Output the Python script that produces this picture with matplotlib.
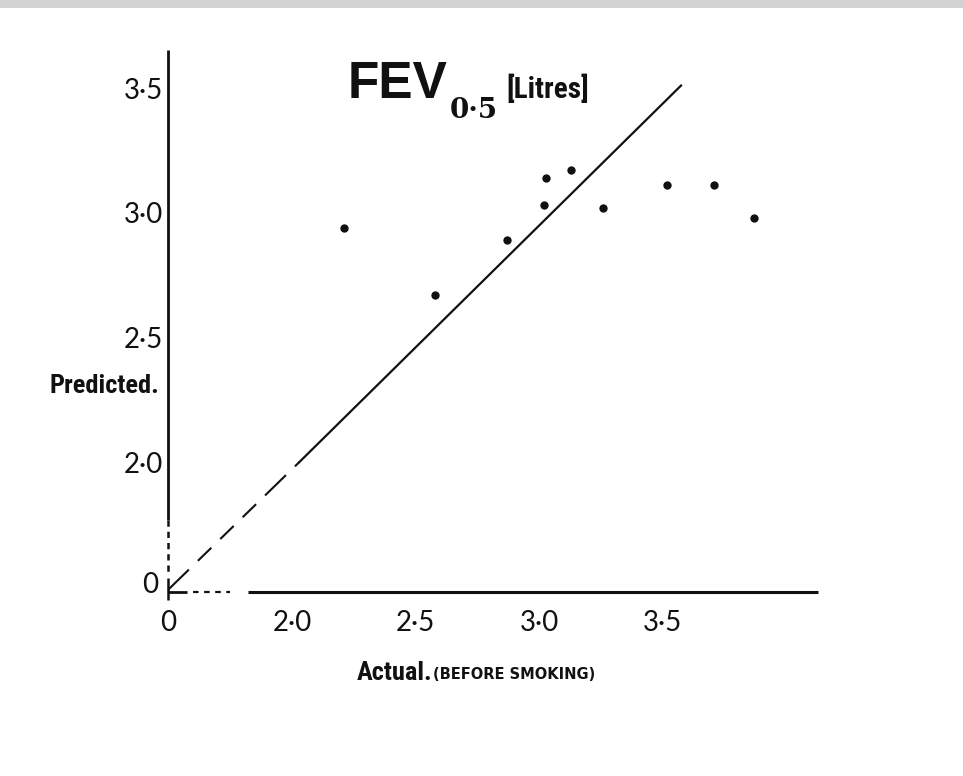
import matplotlib
matplotlib.use("Agg")
import matplotlib.pyplot as plt
from matplotlib.patches import Rectangle
from matplotlib import font_manager

# ---- data ----
actual = [2.21, 2.58, 2.87, 3.02, 3.03, 3.13, 3.26, 3.52, 3.71, 3.87]
predicted = [2.94, 2.67, 2.89, 3.03, 3.14, 3.17, 3.02, 3.11, 3.11, 2.98]
x_ticks = [2.0, 2.5, 3.0, 3.5]
x_tick_labels = ["2·0", "2·5", "3·0", "3·5"]
y_ticks = [2.0, 2.5, 3.0, 3.5]
y_tick_labels = ["2·0", "2·5", "3·0", "3·5"]
origin = 1.5              # broken-axis origin, labelled "0"
origin_label = "0"
# line of equality (hand-drawn): dashed part and solid part
eq_dash_x = [1.498, 2.03]
eq_dash_y = [1.487, 2.00]
eq_solid_x = [2.03, 3.575]
eq_solid_y = [2.00, 3.51]

names = {f.name for f in font_manager.fontManager.ttflist}
condensed = [n for n in ["Roboto Condensed", "Liberation Sans Narrow", "DejaVu Sans Condensed",
                         "Open Sans Condensed", "Roboto"] if n in names] + ["DejaVu Sans"]
cond_font = condensed[0]

fig = plt.figure(figsize=(9.63, 7.76), dpi=100)
fig.patch.set_facecolor("white")
ax = fig.add_axes([0, 0, 1, 1])
ax.set_xlim(0.8178, 4.7166)
ax.set_ylim(0.7405, 3.8532)
ax.axis("off")

# scanned top edge
fig.add_artist(Rectangle((0, 1 - 8 / 776), 1, 8 / 776, transform=fig.transFigure,
                         facecolor="#d2d2d2", edgecolor="none"))

ink = "#111111"
ax_x = 1.498   # position of vertical axis
ax_y = 1.479   # position of horizontal axis

# vertical axis: solid, then dotted down to origin, plus small cross stub
ax.plot([ax_x, ax_x], [3.653, 1.767], color=ink, lw=2.0, solid_capstyle="butt")
ax.plot([ax_x, ax_x], [1.767, 1.55], color=ink, lw=1.8, linestyle=(0, (2.5, 2.0)))
ax.plot([ax_x, ax_x], [1.535, 1.447], color=ink, lw=1.8, solid_capstyle="butt")

# horizontal axis: stub, dotted, then solid
ax.plot([1.498, 1.575], [ax_y, ax_y], color=ink, lw=2.0, solid_capstyle="butt")
ax.plot([1.60, 1.749], [ax_y, ax_y], color=ink, lw=1.6, linestyle=(0, (2.5, 2.5)))
ax.plot([1.822, 4.13], [ax_y, ax_y], color=ink, lw=2.2, solid_capstyle="butt")

# line of equality
ax.plot(eq_dash_x, eq_dash_y, color=ink, lw=1.5, linestyle=(0, (14, 6, 9, 6, 9, 6, 9, 6)))
ax.plot(eq_solid_x, eq_solid_y, color=ink, lw=1.6)

# points
ax.plot(actual, predicted, linestyle="none", marker="o", markersize=6,
        color=ink, markeredgewidth=0)

# tick labels
tick_font = dict(family=["Lato", "DejaVu Sans"], fontsize=20, color=ink)
for v, lab in zip(x_ticks, x_tick_labels):
    ax.text(v, 1.406, lab, ha="center", va="top", **tick_font)
ax.text(origin, 1.406, origin_label, ha="center", va="top", **tick_font)
for v, lab in zip(y_ticks, y_tick_labels):
    ax.text(1.478, v, lab, ha="right", va="center_baseline", **tick_font)
ax.text(1.457, 1.515, origin_label, ha="right", va="center_baseline", **tick_font)

narrow = [cond_font, "DejaVu Sans"]
px = 1 / 247.0
py = 1 / 249.3

# title
ax.text(2.2267, 3.460, "FEV", ha="left", va="baseline",
        family=["Liberation Sans", "DejaVu Sans"], fontweight="bold", fontsize=37, color=ink)
ax.text(2.640, 3.378, "0·5", ha="left", va="baseline",
        family=["DejaVu Serif"], fontweight="bold", fontsize=20, color=ink)
ax.text(2.0 + (506 - 292) * px, 2 + (462 - 98) * py, "[Litres]", ha="left", va="baseline",
        family=narrow, fontweight="bold", fontstretch="condensed", fontsize=21, color=ink)

# axis titles
ax.text(0.8178 + 50 * px, 2 + (462 - 393) * py, "Predicted.", ha="left", va="baseline",
        family=narrow, fontweight="bold", fontstretch="condensed", fontsize=19, color=ink)
ax.text(2.0 + (357 - 292) * px, 2 + (462 - 680) * py, "Actual.", ha="left", va="baseline",
        family=narrow, fontweight="bold", fontstretch="condensed", fontsize=19, color=ink)
ax.text(2.0 + (433 - 292) * px, 2 + (462 - 679) * py, "(BEFORE SMOKING)", ha="left", va="baseline",
        family=["DejaVu Sans"], fontweight="bold", fontsize=10.5, color=ink)

fig.savefig("out.png", dpi=100, facecolor="white")
